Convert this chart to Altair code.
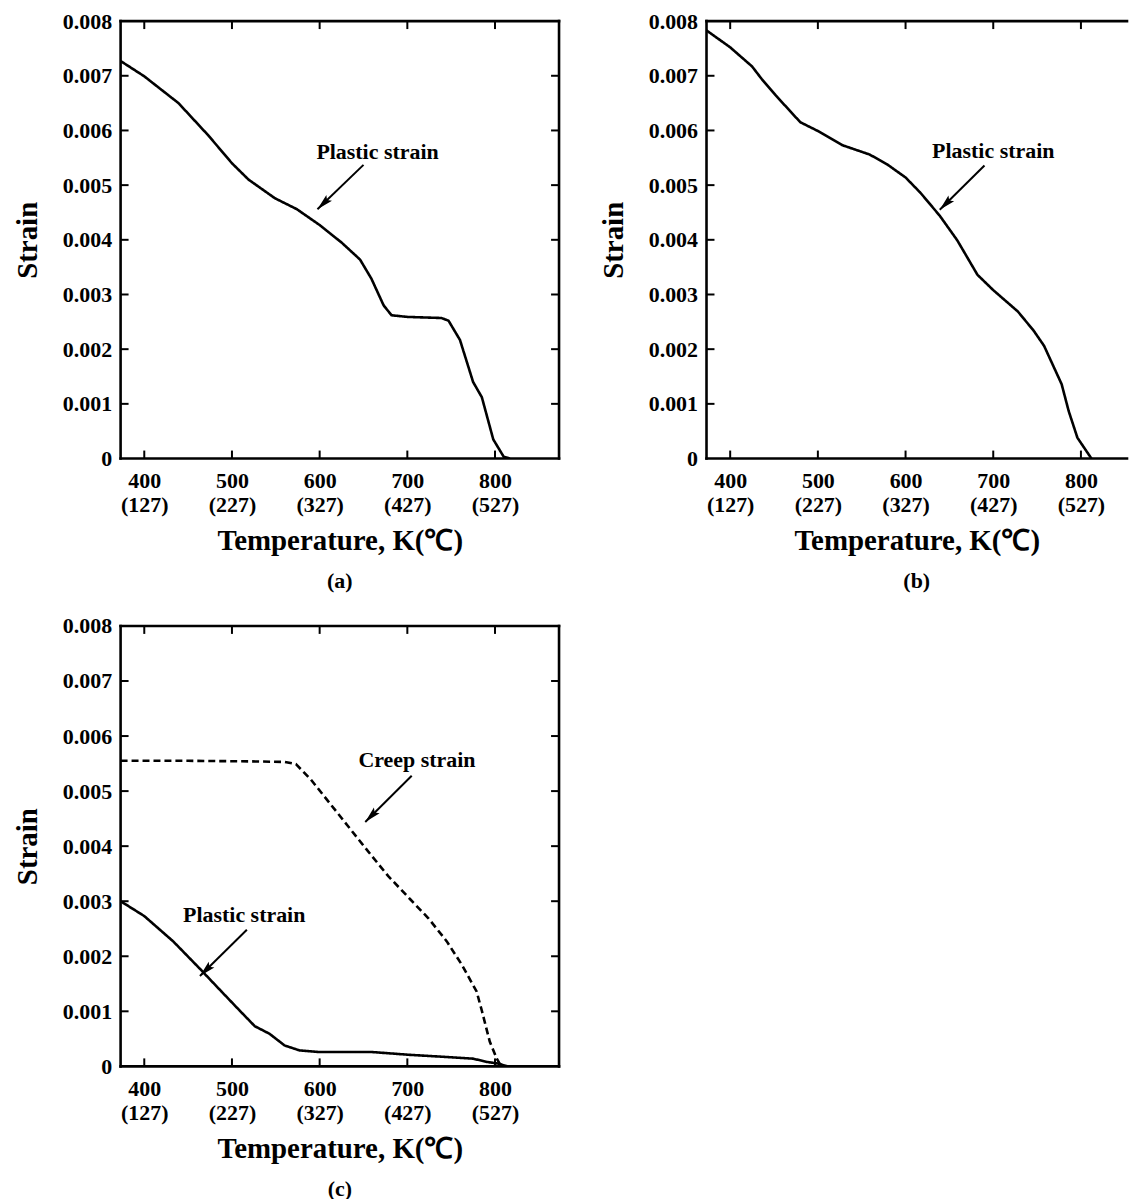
import math
import altair as alt
import pandas as pd

# ---------------- data ----------------
X_MIN, X_MAX = 373, 873
Y_MIN, Y_MAX = 0.0, 0.008
X_TICKS = [400, 500, 600, 700, 800]
Y_TICKS = [0, 0.001, 0.002, 0.003, 0.004, 0.005, 0.006, 0.007, 0.008]

# (a) plastic strain
a_temp = [373, 400, 439, 473, 500, 519, 549, 574, 600, 625, 646, 659, 673, 682,
          700, 739, 747, 760, 775, 785, 798, 810, 817]
a_strain = [0.00727, 0.00699, 0.00650, 0.00591, 0.00540, 0.00510, 0.00476,
            0.00456, 0.00427, 0.00395, 0.00364, 0.00329, 0.00280, 0.00262,
            0.00259, 0.00257, 0.00252, 0.00217, 0.00140, 0.00112, 0.00035,
            0.00003, 0.0]

# (b) plastic strain
b_temp = [373, 400, 425, 436, 452, 480, 500, 528, 559, 579, 600, 617, 639, 659,
          682, 700, 728, 746, 758, 778, 786, 796, 812]
b_strain = [0.00783, 0.00752, 0.00717, 0.00694, 0.00664, 0.00615, 0.00599,
            0.00573, 0.00556, 0.00538, 0.00514, 0.00486, 0.00444, 0.00399,
            0.00336, 0.00308, 0.00269, 0.00234, 0.00206, 0.00136, 0.00087,
            0.00038, 0.0]

# (c) creep strain (dashed)
c_creep_temp = [373, 450, 520, 560, 573, 590, 611, 632, 653, 678, 703, 724,
                745, 762, 779, 785, 794, 802, 806]
c_creep_strain = [0.00555, 0.00555, 0.00554, 0.00553, 0.00549, 0.00521,
                  0.00479, 0.00437, 0.00395, 0.00346, 0.00304, 0.00269,
                  0.00227, 0.00185, 0.00136, 0.00101, 0.00045, 0.00014, 0.00003]

# (c) plastic strain
c_plastic_temp = [373, 400, 433, 463, 488, 509, 526, 543, 560, 577, 600, 660,
                  702, 745, 775, 791, 804, 814]
c_plastic_strain = [0.00300, 0.00273, 0.00227, 0.00178, 0.00136, 0.00101,
                    0.00073, 0.00059, 0.00038, 0.00029, 0.00026, 0.00026,
                    0.00021, 0.00017, 0.00014, 0.00008, 0.00005, 0.0]

# annotations: label position and arrow (from -> to)
a_notes = {"label": ["Plastic strain"], "lt": [666], "ls": [0.00560],
           "t1": [650], "s1": [0.00537], "t2": [597.5], "s2": [0.00456]}
b_notes = {"label": ["Plastic strain"], "lt": [700], "ls": [0.00563],
           "t1": [690], "s1": [0.00536], "t2": [639], "s2": [0.00455]}
c_notes = {"label": ["Creep strain", "Plastic strain"], "lt": [711, 514],
           "ls": [0.00557, 0.00275],
           "t1": [705, 517], "s1": [0.00528, 0.00248],
           "t2": [652, 463.5], "s2": [0.00444, 0.00164]}

# ---------------- styling ----------------
FONT = "Liberation Serif"
W = 440
W_B = 422          # panel (b) is cut at the page's right edge
TICK = 8
ARROW_PATH = "M0,0L0.55,2.2L0,1.8L-0.55,2.2Z"
PX_PER_K = W / (X_MAX - X_MIN)

y_scale = alt.Scale(domain=[Y_MIN, Y_MAX], nice=False, zero=False)

y_axis = alt.Axis(values=Y_TICKS, title="Strain",
                  labelExpr="datum.value == 0 ? '0' : format(datum.value, '.3f')",
                  labelPadding=9, titlePadding=20,
                  labelFlush=False, labelOverlap=False)
x_axis = alt.Axis(values=X_TICKS, title="Temperature, K(℃)",
                  labelExpr="[datum.label, '(' + (datum.value - 273) + ')']",
                  labelLineHeight=24, labelPadding=12, titlePadding=11,
                  labelFlush=False, labelOverlap=False)

one = pd.DataFrame({"d": [0]})


def panel(lines, notes, caption, width, height, right_frame):
    x_hi = X_MIN + width / PX_PER_K
    x_scale = alt.Scale(domain=[X_MIN, x_hi], nice=False, zero=False)

    def X(field):
        return alt.X(field, scale=x_scale, axis=x_axis)

    def Y(field):
        return alt.Y(field, scale=y_scale, axis=y_axis)

    layers = []
    for temps, strains, dash in lines:
        df = pd.DataFrame({"T": temps, "s": strains})
        layers.append(alt.Chart(df).mark_line(
            color="black", strokeWidth=2.6, strokeDash=dash, clip=True
        ).encode(x=X("T:Q"), y=Y("s:Q")))

    # frame
    fr = dict(color="black", strokeWidth=2.6, strokeCap="square")
    layers.append(alt.Chart(one).mark_rule(**fr).encode(
        x=alt.value(0), x2=alt.value(width), y=alt.value(0)))
    layers.append(alt.Chart(one).mark_rule(**fr).encode(
        x=alt.value(0), x2=alt.value(width), y=alt.value(height)))
    layers.append(alt.Chart(one).mark_rule(**fr).encode(
        x=alt.value(0), y=alt.value(0), y2=alt.value(height)))
    if right_frame:
        layers.append(alt.Chart(one).mark_rule(**fr).encode(
            x=alt.value(width), y=alt.value(0), y2=alt.value(height)))

    # inward ticks
    xt = pd.DataFrame({"v": X_TICKS})
    yt = pd.DataFrame({"v": Y_TICKS[1:-1]})
    layers.append(alt.Chart(xt).mark_rule(color="black", strokeWidth=2).encode(
        x=X("v:Q"), y=alt.value(height), y2=alt.value(height - TICK)))
    layers.append(alt.Chart(xt).mark_rule(color="black", strokeWidth=2).encode(
        x=X("v:Q"), y=alt.value(0), y2=alt.value(TICK)))
    layers.append(alt.Chart(yt).mark_rule(color="black", strokeWidth=2).encode(
        y=Y("v:Q"), x=alt.value(0), x2=alt.value(TICK)))
    if right_frame:
        layers.append(alt.Chart(yt).mark_rule(color="black", strokeWidth=2).encode(
            y=Y("v:Q"), x=alt.value(width - TICK), x2=alt.value(width)))

    # annotations
    nd = pd.DataFrame(notes)
    ky = height / (Y_MAX - Y_MIN)
    angs = []
    for t1, s1, t2, s2 in zip(nd["t1"], nd["s1"], nd["t2"], nd["s2"]):
        dx = (t2 - t1) * PX_PER_K
        dy = -(s2 - s1) * ky
        angs.append((math.degrees(math.atan2(dx, -dy)) + 360) % 360)
    nd["ang"] = angs

    layers.append(alt.Chart(nd).mark_text(font=FONT, fontSize=22, fontWeight="bold",
                                          color="black", align="center",
                                          baseline="middle").encode(
        x=X("lt:Q"), y=Y("ls:Q"), text="label:N"))
    layers.append(alt.Chart(nd).mark_rule(color="black", strokeWidth=2).encode(
        x=X("t1:Q"), y=Y("s1:Q"), x2="t2:Q", y2="s2:Q"))
    layers.append(alt.Chart(nd).mark_point(shape=ARROW_PATH, filled=True, size=220,
                                           color="black", opacity=1,
                                           strokeWidth=0).encode(
        x=X("t2:Q"), y=Y("s2:Q"),
        angle=alt.Angle("ang:Q", scale=None)))

    return alt.layer(*layers).properties(
        width=width, height=height,
        title=alt.TitleParams(text=caption, orient="bottom", font=FONT,
                              fontSize=22, fontWeight="bold", color="black",
                              anchor="middle", frame="group", offset=16))


pa = panel([(a_temp, a_strain, [1, 0])], a_notes, "(a)", W, 439, True)
pb = panel([(b_temp, b_strain, [1, 0])], b_notes, "(b)", W_B, 439, False)
pc = panel([(c_plastic_temp, c_plastic_strain, [1, 0]),
            (c_creep_temp, c_creep_strain, [7, 4])], c_notes, "(c)", W, 442, True)

chart = alt.vconcat(
    alt.hconcat(pa, pb, spacing=38),
    pc,
    spacing=23,
).properties(
    padding={"left": 5, "top": 0, "right": 0, "bottom": 5}
).configure_view(
    strokeOpacity=0
).configure_axis(
    labelFont=FONT, labelFontSize=22, labelFontWeight="bold", labelColor="black",
    titleFont=FONT, titleFontSize=29, titleFontWeight="bold", titleColor="black",
    domain=False, ticks=False, grid=False
)

chart.save("out.html", embed_options={"renderer": "svg", "actions": False})
